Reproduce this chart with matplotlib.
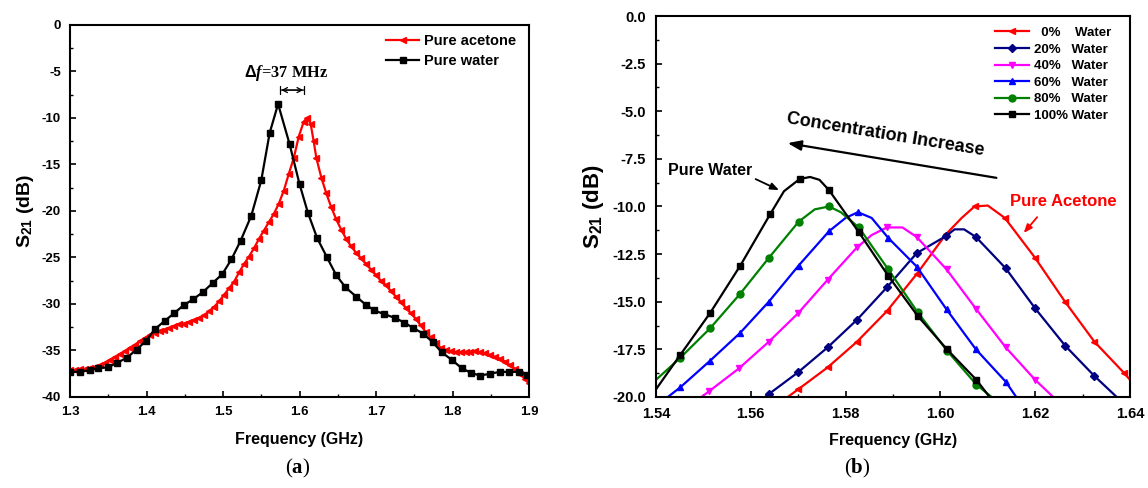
import matplotlib
matplotlib.use('Agg')
import matplotlib.pyplot as plt
from matplotlib.ticker import MultipleLocator

plt.rcParams['font.family'] = ['Liberation Sans', 'DejaVu Sans']
plt.rcParams['font.weight'] = 'bold'
plt.rcParams['axes.unicode_minus'] = False
plt.rcParams['mathtext.fontset'] = 'custom'
plt.rcParams['mathtext.it'] = 'Liberation Serif:italic:bold'
plt.rcParams['mathtext.rm'] = 'Liberation Sans:bold'
plt.rcParams['mathtext.bf'] = 'Liberation Serif:bold'

# (a) pure water vs pure acetone, wide sweep
water_f = [1.300, 1.313, 1.326, 1.337, 1.350, 1.362, 1.374, 1.387, 1.399, 1.411,
           1.424, 1.436, 1.449, 1.461, 1.474, 1.487, 1.499, 1.511, 1.523, 1.537,
           1.550, 1.561, 1.572, 1.587, 1.600, 1.611, 1.623, 1.636, 1.648, 1.660,
           1.674, 1.687, 1.698, 1.711, 1.725, 1.737, 1.749, 1.762, 1.774, 1.786,
           1.799, 1.812, 1.824, 1.836, 1.849, 1.862, 1.874, 1.887, 1.898]
water_s21 = [-37.3, -37.3, -37.1, -36.9, -36.8, -36.3, -35.8, -34.9, -34.0, -32.7,
             -31.8, -31.0, -30.1, -29.5, -28.7, -27.7, -26.8, -25.2, -23.2, -20.5,
             -16.7, -11.6, -8.5, -12.8, -17.1, -20.2, -22.9, -25.0, -26.9, -28.2,
             -29.2, -30.1, -30.7, -31.1, -31.5, -32.0, -32.6, -33.2, -34.1, -35.2,
             -36.0, -36.9, -37.4, -37.7, -37.5, -37.3, -37.3, -37.3, -37.6]

acetone_f = [1.300, 1.3065, 1.313, 1.3195, 1.326, 1.3325, 1.339, 1.3455, 1.352, 1.3585,
             1.365, 1.3715, 1.378, 1.3845, 1.391, 1.3975, 1.404, 1.4105, 1.417, 1.4235,
             1.430, 1.4365, 1.443, 1.4495, 1.456, 1.4625, 1.469, 1.4755, 1.482, 1.4885,
             1.495, 1.5015, 1.508, 1.5145, 1.521, 1.5275, 1.534, 1.5405, 1.547, 1.5535,
             1.560, 1.5665, 1.573, 1.5795, 1.586, 1.5925, 1.599, 1.6055, 1.610, 1.6145,
             1.6185, 1.622, 1.6285, 1.635, 1.6415, 1.648, 1.6545, 1.661, 1.6675, 1.674,
             1.6805, 1.687, 1.6935, 1.700, 1.7065, 1.713, 1.7195, 1.726, 1.7325, 1.739,
             1.7455, 1.752, 1.7585, 1.765, 1.7715, 1.778, 1.7845, 1.791, 1.7975, 1.804,
             1.8105, 1.817, 1.8235, 1.830, 1.8365, 1.843, 1.8495, 1.856, 1.8625, 1.869,
             1.8755, 1.882, 1.8885, 1.895, 1.900]
acetone_s21 = [-37.1, -37.1, -37.0, -37.0, -36.9, -36.8, -36.6, -36.3, -36.0, -35.7,
               -35.4, -35.1, -34.7, -34.4, -34.0, -33.7, -33.3, -33.1, -32.9, -32.8,
               -32.6, -32.4, -32.2, -32.1, -31.9, -31.7, -31.5, -31.2, -30.8, -30.3,
               -29.7, -29.0, -28.3, -27.6, -26.6, -25.7, -24.9, -24.0, -23.0, -22.1,
               -21.2, -20.3, -19.2, -17.8, -16.0, -14.3, -12.0, -10.4, -10.0, -10.6,
               -12.5, -14.3, -16.4, -18.1, -19.6, -20.9, -22.0, -23.0, -23.8, -24.5,
               -25.1, -25.7, -26.3, -26.9, -27.5, -28.0, -28.6, -29.2, -29.8, -30.4,
               -31.0, -31.6, -32.3, -33.0, -33.6, -34.2, -34.7, -35.0, -35.1, -35.2,
               -35.2, -35.2, -35.2, -35.1, -35.2, -35.3, -35.5, -35.7, -35.9, -36.2,
               -36.6, -37.0, -37.5, -38.1, -38.5]

# (b) water concentration sweep, zoomed
labels_b = ['  0%    Water', '20%   Water', '40%   Water', '60%   Water', '80%   Water', '100% Water']
colors_b = ['#ff0000', '#000080', '#ff00ff', '#0000ff', '#008000', '#000000']
markers_b = ['<', 'D', 'v', '^', 'o', 's']

f_0 = [1.5678, 1.570, 1.5762, 1.5824, 1.5887, 1.595, 1.6012, 1.6045, 1.6072, 1.610,
       1.6136, 1.620, 1.6263, 1.6325, 1.6388, 1.640]
s_0 = [-20.0, -19.6, -18.45, -17.1, -15.5, -13.55, -11.45, -10.6, -10.0, -9.95,
       -10.6, -12.7, -15.0, -17.1, -18.75, -19.1]
f_20 = [1.563, 1.5638, 1.570, 1.5762, 1.5824, 1.5887, 1.595, 1.6012, 1.603, 1.605,
        1.6075, 1.6138, 1.620, 1.6263, 1.6325, 1.6372]
s_20 = [-20.0, -19.85, -18.7, -17.4, -15.95, -14.25, -12.45, -11.55, -11.2, -11.2,
        -11.6, -13.25, -15.35, -17.3, -18.9, -20.0]
f_40 = [1.5496, 1.5512, 1.5575, 1.5638, 1.570, 1.5762, 1.5824, 1.5855, 1.5887, 1.592,
        1.595, 1.6013, 1.6076, 1.6138, 1.620, 1.6238]
s_40 = [-20.0, -19.7, -18.5, -17.1, -15.6, -13.85, -12.15, -11.5, -11.1, -11.1,
        -11.6, -13.3, -15.4, -17.4, -19.1, -20.0]
f_60 = [1.5425, 1.5451, 1.5514, 1.5577, 1.5638, 1.5701, 1.5765, 1.580, 1.5826, 1.5855,
        1.589, 1.595, 1.6013, 1.6075, 1.6138, 1.616]
s_60 = [-20.0, -19.5, -18.1, -16.65, -15.0, -13.1, -11.3, -10.6, -10.3, -10.6,
        -11.65, -13.15, -15.4, -17.5, -19.2, -20.0]
f_80 = [1.540, 1.5451, 1.5514, 1.5577, 1.5638, 1.5701, 1.5735, 1.5765, 1.579, 1.5828,
        1.589, 1.5952, 1.6015, 1.6076, 1.6108]
s_80 = [-19.1, -17.95, -16.4, -14.6, -12.7, -10.8, -10.15, -10.0, -10.3, -11.1,
        -13.3, -15.55, -17.6, -19.35, -20.0]
f_100 = [1.540, 1.5451, 1.5514, 1.5578, 1.5641, 1.567, 1.5703, 1.5725, 1.5745, 1.5765,
         1.5828, 1.589, 1.5952, 1.6014, 1.6076, 1.611]
s_100 = [-19.6, -17.8, -15.6, -13.1, -10.4, -9.2, -8.56, -8.45, -8.6, -9.14,
         -11.35, -13.64, -15.74, -17.5, -19.1, -20.2]

freqs_b = [f_0, f_20, f_40, f_60, f_80, f_100]
s21_b = [s_0, s_20, s_40, s_60, s_80, s_100]
marks_b = [[1, 2, 3, 4, 5, 6, 8, 10, 11, 12, 13, 14],
           [1, 2, 3, 4, 5, 6, 7, 10, 11, 12, 13, 14],
           [1, 2, 3, 4, 5, 6, 8, 10, 11, 12, 13, 14],
           [1, 2, 3, 4, 5, 6, 8, 10, 11, 12, 13, 14],
           [1, 2, 3, 4, 5, 7, 9, 10, 11, 12, 13],
           [1, 2, 3, 4, 6, 9, 10, 11, 12, 13, 14]]

fig = plt.figure(figsize=(11.48, 4.88), dpi=100)
ax1 = fig.add_axes([0.061, 0.1865, 0.3998, 0.7623])
ax2 = fig.add_axes([0.5714, 0.1865, 0.4129, 0.7807])

# ---- panel a
ax1.plot(acetone_f, acetone_s21, color='#ff0000', marker='<', ms=4, lw=1.6, label='Pure acetone')
ax1.plot(water_f, water_s21, color='black', marker='s', ms=5, lw=1.6, label='Pure water')
ax1.set_xlim(1.3, 1.9)
ax1.set_ylim(-40, 0)
ax1.xaxis.set_major_locator(MultipleLocator(0.1))
ax1.xaxis.set_minor_locator(MultipleLocator(0.05))
ax1.yaxis.set_major_locator(MultipleLocator(5))
ax1.yaxis.set_minor_locator(MultipleLocator(2.5))
ax1.set_xlabel('Frequency (GHz)', fontsize=11.5, fontweight='bold', labelpad=10)
ax1.set_ylabel(r'S$_{\mathregular{21}}$ (dB)', fontsize=14, fontweight='bold', labelpad=4)
ax1.legend(loc='upper right', frameon=False, fontsize=10.5, handlelength=2.3,
           handletextpad=0.3, borderaxespad=0.5, labelspacing=0.37,
           bbox_to_anchor=(1.0, 1.01))
ax1.annotate('', xy=(1.5715, -7.0), xytext=(1.6095, -7.0),
             arrowprops=dict(arrowstyle='|-|, widthA=0.3, widthB=0.3', lw=0.9, color='black'))
ax1.annotate('', xy=(1.5725, -7.0), xytext=(1.6085, -7.0),
             arrowprops=dict(arrowstyle='<->, head_length=0.35, head_width=0.18', lw=0.9, color='black'))
ax1.text(1.582, -5.2, r'$\mathit{\Delta f}$=37 MHz', family='Liberation Serif', fontweight='bold',
         fontsize=11.8, ha='center', va='center')

# ---- panel b
for f, s, c, m, lab, mk in zip(freqs_b, s21_b, colors_b, markers_b, labels_b, marks_b):
    ax2.plot(f, s, color=c, marker=m, ms=5 if m != 'D' else 4, lw=1.6, label=lab, markevery=mk)
ax2.set_xlim(1.54, 1.64)
ax2.set_ylim(-20, 0)
ax2.xaxis.set_major_locator(MultipleLocator(0.02))
ax2.xaxis.set_minor_locator(MultipleLocator(0.01))
ax2.yaxis.set_major_locator(MultipleLocator(2.5))
ax2.yaxis.set_minor_locator(MultipleLocator(1.25))
ax2.yaxis.set_major_formatter(matplotlib.ticker.FormatStrFormatter('%.1f'))
ax2.set_xlabel('Frequency (GHz)', fontsize=11.5, fontweight='bold', labelpad=9)
ax2.set_ylabel(r'S$_{\mathregular{21}}$ (dB)', fontsize=16, fontweight='bold', labelpad=5)
ax2.legend(loc='upper right', frameon=False, fontsize=9.5, handlelength=2.6,
           handletextpad=0.4, borderaxespad=1.0, labelspacing=0.33,
           bbox_to_anchor=(1.0, 1.02))

ax2.annotate('', xy=(1.5672, -6.65), xytext=(1.6124, -8.52),
             arrowprops=dict(arrowstyle='-|>, head_length=0.8, head_width=0.3', lw=1.6, color='black'))
ax2.text(1.5885, -6.25, 'Concentration Increase', fontsize=13, fontweight='bold',
         rotation=-9.3, rotation_mode='anchor', ha='center', va='center')
ax2.text(1.5425, -8.1, 'Pure Water', fontsize=11.5, fontweight='bold', ha='left', va='center')
ax2.annotate('', xy=(1.5665, -9.2), xytext=(1.5605, -8.5),
             arrowprops=dict(arrowstyle='-|>, head_length=0.5, head_width=0.2', lw=1.3, color='black'))
ax2.text(1.6147, -9.75, 'Pure Acetone', fontsize=12, fontweight='bold', color='#ff0000',
         ha='left', va='center')
ax2.annotate('', xy=(1.6172, -11.5), xytext=(1.6208, -10.45),
             arrowprops=dict(arrowstyle='-|>, head_length=0.5, head_width=0.2', lw=1.3, color='#ff0000'))

for ax, ls, pd in ((ax1, 9.5, 6.5), (ax2, 10.5, 7)):
    ax.tick_params(which='both', direction='in', top=False, right=False, labelsize=ls, pad=pd)
    ax.tick_params(which='major', length=4, width=1.2)
    ax.tick_params(which='minor', length=2.5, width=1.0)
    for sp in ax.spines.values():
        sp.set_linewidth(1.5)
    for lbl in ax.get_xticklabels() + ax.get_yticklabels():
        lbl.set_fontweight('bold')

fig.text(0.2596, 0.04, r'($\mathbf{a}$)', family='Liberation Serif', fontweight='normal',
         fontsize=15, ha='center', va='center')
fig.text(0.7465, 0.04, r'($\mathbf{b}$)', family='Liberation Serif', fontweight='normal',
         fontsize=15, ha='center', va='center')

fig.savefig('out.png', dpi=100)
